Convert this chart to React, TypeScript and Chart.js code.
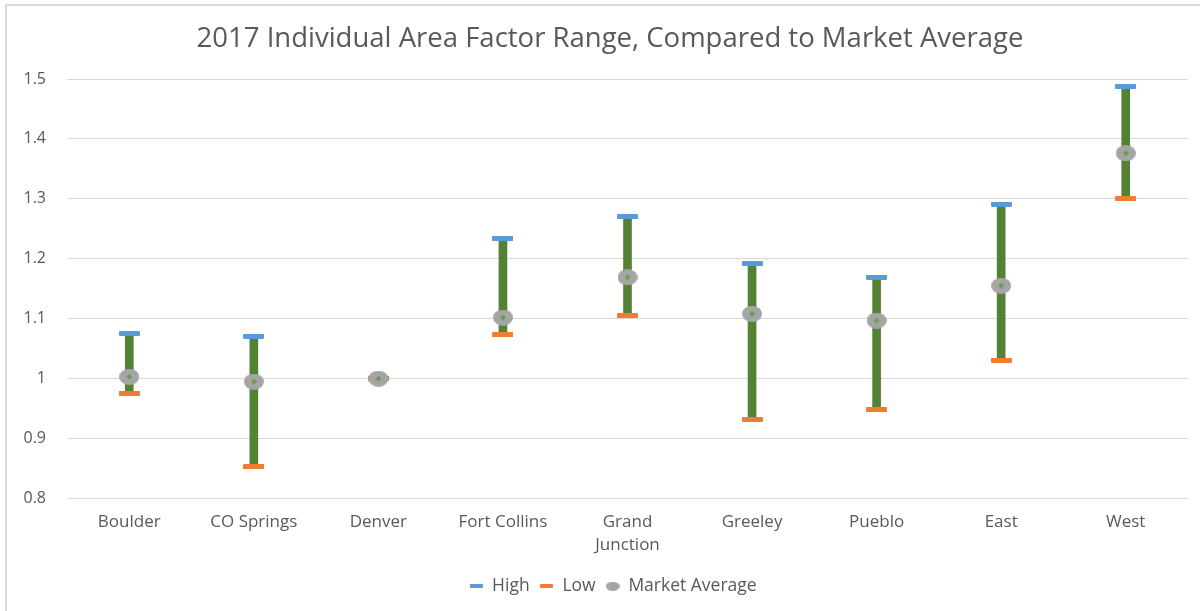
import React, { useEffect, useRef } from "react";
import { Chart, registerables } from "chart.js";

Chart.register(...registerables);

const categories: (string | string[])[] = [
  "Boulder",
  "CO Springs",
  "Denver",
  "Fort Collins",
  ["Grand", "Junction"],
  "Greeley",
  "Pueblo",
  "East",
  "West",
];
const highValues = [1.075, 1.071, 1.0, 1.234, 1.27, 1.192, 1.169, 1.291, 1.487];
const lowValues = [0.976, 0.853, 1.0, 1.073, 1.105, 0.932, 0.948, 1.031, 1.3];
const avgValues = [1.003, 0.995, 1.0, 1.102, 1.169, 1.108, 1.097, 1.155, 1.376];
const yTicks = [0.8, 0.9, 1, 1.1, 1.2, 1.3, 1.4, 1.5];
const titleText = "2017 Individual Area Factor Range, Compared to Market Average";

const FONT = "'Open Sans', sans-serif";
const TEXT = "#595959";
const BLUE = "#5B9BD5";
const ORANGE = "#ED7D31";
const GRAY = "#A5A5A5";
const GREEN = "#548235";

function rectImg(w: number, h: number, color: string) {
  const c = document.createElement("canvas");
  c.width = w;
  c.height = h;
  const ctx = c.getContext("2d")!;
  ctx.fillStyle = color;
  ctx.beginPath();
  (ctx as any).roundRect ? (ctx as any).roundRect(0, 0, w, h, 1) : ctx.rect(0, 0, w, h);
  ctx.fill();
  return c;
}

function ellipseImg(w: number, h: number, dot: boolean) {
  const c = document.createElement("canvas");
  c.width = w;
  c.height = h;
  const ctx = c.getContext("2d")!;
  ctx.fillStyle = GRAY;
  ctx.beginPath();
  ctx.ellipse(w / 2, h / 2, w / 2, h / 2, 0, 0, Math.PI * 2);
  ctx.fill();
  if (dot) {
    ctx.fillStyle = "#6f9a55";
    ctx.beginPath();
    ctx.moveTo(w / 2, h / 2 - 3);
    ctx.lineTo(w / 2 + 3, h / 2);
    ctx.lineTo(w / 2, h / 2 + 3);
    ctx.lineTo(w / 2 - 3, h / 2);
    ctx.closePath();
    ctx.fill();
  }
  return c;
}

export default function App() {
  const ref = useRef<HTMLCanvasElement>(null);

  useEffect(() => {
    document.body.style.margin = "0";
    const highImg = rectImg(21, 5, BLUE);
    const lowImg = rectImg(21, 5, ORANGE);
    const avgImg = ellipseImg(20, 16, true);
    const highLeg = rectImg(13, 4, BLUE);
    const lowLeg = rectImg(13, 4, ORANGE);
    const avgLeg = ellipseImg(14, 9, false);

    const framePlugin = {
      id: "frame",
      afterLayout(chart: any) {
        if (chart.legend) {
          chart.legend.left += 14;
          chart.legend.right += 14;
        }
      },
      beforeDraw(chart: any) {
        const ctx = chart.ctx;
        ctx.save();
        ctx.fillStyle = "#ffffff";
        ctx.fillRect(0, 0, chart.width, chart.height);
        ctx.fillStyle = "#d9d9d9";
        ctx.fillRect(5, 4, chart.width - 5, 2);
        ctx.fillRect(5, 4, 2, chart.height - 4);
        ctx.restore();
      },
      afterDraw(chart: any) {
        const ctx = chart.ctx;
        ctx.save();
        ctx.fillStyle = TEXT;
        ctx.font = `normal 27.5px ${FONT}`;
        ctx.textAlign = "center";
        ctx.textBaseline = "middle";
        ctx.fillText(titleText, 610, 39);
        ctx.restore();
      },
    };

    const chart = new Chart(ref.current!, {
      type: "bar",
      data: {
        labels: categories as any,
        datasets: [
          {
            type: "bar",
            label: "Range",
            data: lowValues.map((l, i) => [l, highValues[i]]) as any,
            backgroundColor: GREEN,
            barThickness: 8,
            order: 4,
          } as any,
          {
            type: "line",
            label: "High",
            data: highValues,
            showLine: false,
            pointStyle: highImg,
            pointRadius: 10,
            pointHoverRadius: 10,
            order: 3,
          } as any,
          {
            type: "line",
            label: "Low",
            data: lowValues,
            showLine: false,
            pointStyle: lowImg,
            pointRadius: 10,
            order: 2,
          } as any,
          {
            type: "line",
            label: "Market Average",
            data: avgValues,
            showLine: false,
            pointStyle: avgImg,
            pointRadius: 10,
            order: 1,
          } as any,
        ],
      },
      options: {
        animation: false,
        responsive: false,
        maintainAspectRatio: false,
        layout: { padding: { left: 10, right: 12, top: 79, bottom: 6 } },
        plugins: {
          tooltip: { enabled: false },
          title: { display: false },
          legend: {
            position: "bottom",
            labels: {
              color: TEXT,
              font: { family: FONT, size: 17.5 },
              usePointStyle: true,
              boxHeight: 12,
              pointStyleWidth: 14,
              padding: 10,
              generateLabels: () => [
                { text: "High", pointStyle: highLeg, fontColor: TEXT, datasetIndex: 1 } as any,
                { text: "Low", pointStyle: lowLeg, fontColor: TEXT, datasetIndex: 2 } as any,
                { text: "Market Average", pointStyle: avgLeg, fontColor: TEXT, datasetIndex: 3 } as any,
              ],
            },
          },
        },
        scales: {
          x: {
            offset: true,
            grid: { display: false, drawTicks: false },
            border: { display: false },
            ticks: {
              color: TEXT,
              font: { family: FONT, size: 17, lineHeight: 1.35 },
              padding: 12,
              maxRotation: 0,
              autoSkip: false,
            },
            afterFit: (s: any) => {
              s.height = 69;
            },
          },
          y: {
            min: 0.8,
            max: 1.5,
            afterBuildTicks: (s: any) => {
              s.ticks = yTicks.map((v) => ({ value: v }));
            },
            grid: { color: "#d9d9d9", lineWidth: 1, drawTicks: false },
            border: { display: false },
            ticks: {
              color: TEXT,
              font: { family: FONT, size: 16 },
              padding: 21,
              callback: (v: any) => String(Number(v)),
            },
            afterFit: (s: any) => {
              s.width = 57;
            },
          },
        },
      },
      plugins: [framePlugin],
    });
    return () => chart.destroy();
  }, []);

  return (
    <div style={{ width: 1200, height: 611 }}>
      <canvas ref={ref} width={1200} height={611} style={{ display: "block" }} />
    </div>
  );
}
